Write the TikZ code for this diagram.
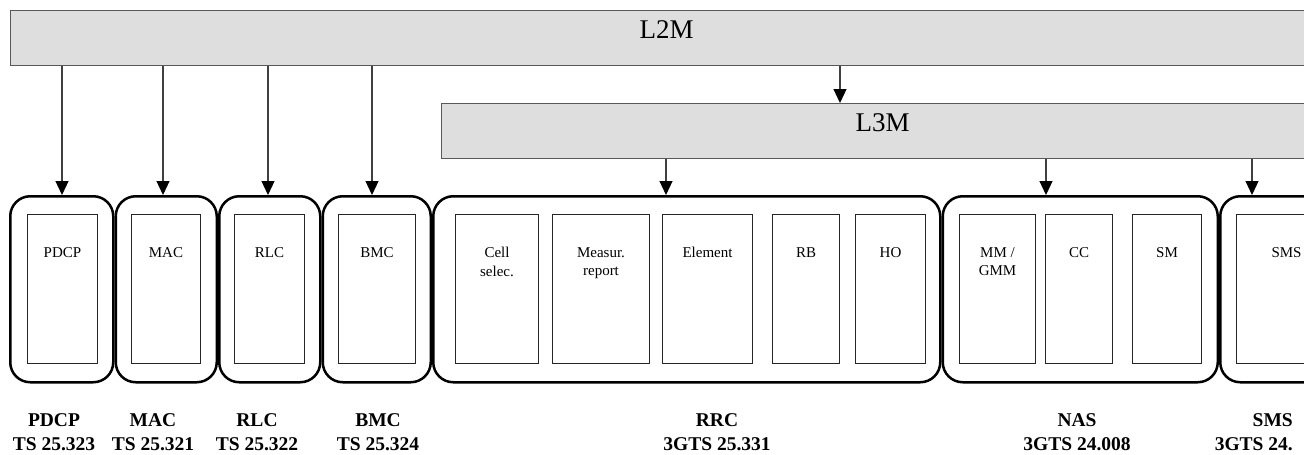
\documentclass[tikz,border=0pt]{standalone}
\usepackage{fontspec}
\setmainfont{Liberation Serif}
\usetikzlibrary{arrows.meta,positioning}

\tikzset{
  mgr/.style={draw=black!65, fill=black!13, line width=1.2pt, inner sep=0pt,
    anchor=north west, text height=28pt, text depth=27pt,
    font=\fontsize{27}{30}\selectfont},
  protocol/.style={draw, line width=2.5pt, rounded corners=20pt, inner sep=0pt,
    minimum height=186pt},
  entity/.style={draw=black!85, line width=1pt, inner sep=0pt, anchor=north west,
    minimum height=149pt},
  elabel/.style={anchor=north, yshift=-33pt, inner sep=0pt, align=center,
    font=\fontsize{15}{18.5}\selectfont},
  caption/.style={anchor=north, inner sep=0pt, align=center,
    font=\fontsize{19.5}{24.5}\selectfont\bfseries},
  flow/.style={draw=black!75, line width=1.2pt,
    -{Triangle[width=13pt,length=14pt,color=black]}}
}

\begin{document}
\begin{tikzpicture}[x=1pt,y=-1pt]
    \useasboundingbox (0,0) rectangle (1304,455);
    \clip (0,0) rectangle (1304,455);
    % management layers
    \node[mgr, minimum width=1312pt] (l2m) at (10,10) {L2M};
    \node[mgr, minimum width=882pt] (l3m) at (441,103) {L3M};
    % protocol blocks
    \node[protocol, minimum width=103pt, anchor=north west] (pdcp) at (9,195) {};
    \node[protocol, minimum width=101pt, right=0pt of pdcp] (mac) {};
    \node[protocol, minimum width=101pt, right=0pt of mac] (rlc) {};
    \node[protocol, minimum width=108pt, right=0pt of rlc] (bmc) {};
    \node[protocol, minimum width=507pt, right=0pt of bmc] (rrc) {};
    \node[protocol, minimum width=275pt, right=0pt of rrc] (nas) {};
    \node[protocol, minimum width=120pt, right=0pt of nas] (sms) {};
    % entities
    \node[entity, minimum width=70pt, label={[elabel]north:PDCP}] (pdcp entity) at (27,214) {};
    \node[entity, minimum width=69pt, label={[elabel]north:MAC}] (mac entity) at (131,214) {};
    \node[entity, minimum width=70pt, label={[elabel]north:RLC}] (rlc entity) at (234,214) {};
    \node[entity, minimum width=77pt, label={[elabel]north:BMC}] (bmc entity) at (338,214) {};
    \node[entity, minimum width=83pt, label={[elabel]north:Cell\\selec.}] (cell selec) at (455,214) {};
    \node[entity, minimum width=97pt, label={[elabel]north:Measur.\\report}] (measur report) at (552,214) {};
    \node[entity, minimum width=90pt, label={[elabel]north:Element}] (element) at (662,214) {};
    \node[entity, minimum width=67pt, label={[elabel]north:RB}] (rb) at (772,214) {};
    \node[entity, minimum width=70pt, label={[elabel]north:HO}] (ho) at (855,214) {};
    \node[entity, minimum width=76pt, label={[elabel]north:MM /\\GMM}] (mm gmm) at (959,214) {};
    \node[entity, minimum width=67pt, label={[elabel]north:CC}] (cc) at (1045,214) {};
    \node[entity, minimum width=69pt, label={[elabel]north:SM}] (sm) at (1132,214) {};
    \node[entity, minimum width=100pt, label={[elabel]north:SMS}] (sms entity) at (1236,214) {};
    % specs
    \node[caption] (pdcp caption) at (54,413) {PDCP\\TS 25.323};
    \node[caption] (mac caption) at (153,413) {MAC\\TS 25.321};
    \node[caption] (rlc caption) at (257,413) {RLC\\TS 25.322};
    \node[caption] (bmc caption) at (378,413) {BMC\\TS 25.324};
    \node[caption] (rrc caption) at (717,413) {RRC\\3GTS 25.331};
    \node[caption] (nas caption) at (1077,413) {NAS\\3GTS 24.008};
    \node[caption, anchor=north east, align=right] (sms caption) at (1293,413) {SMS\\3GTS 24.};
    % control arrows
    \foreach \n/\x in {pdcp/62, mac/163, rlc/268, bmc/372}
        \draw[flow] (l2m.south -| \x,0) -- (\n.north -| \x,0);
    \draw[flow] (l2m.south -| 840,0) -- (l3m.north -| 840,0);
    \foreach \n/\x in {rrc/666, nas/1046, sms/1252}
        \draw[flow] (l3m.south -| \x,0) -- (\n.north -| \x,0);
\end{tikzpicture}
\end{document}
